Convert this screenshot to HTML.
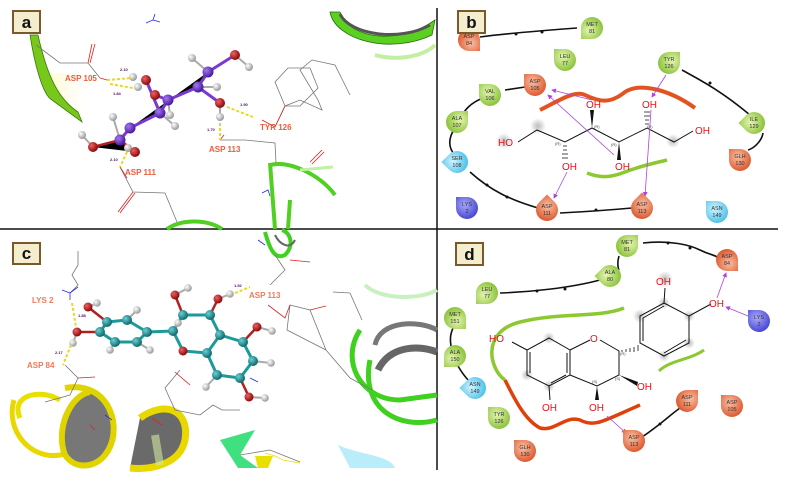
<!DOCTYPE html>
<html><head><meta charset="utf-8"><style>
html,body{margin:0;padding:0;background:#fff;}
svg{display:block;font-family:"Liberation Sans",sans-serif;}
.lab{font-size:8px;font-weight:bold;fill:#ef5a3a;}
.num{font-size:4px;font-weight:bold;fill:#4a1060;}
.nt{font-size:5.5px;fill:#333;text-anchor:middle;}
.oh{font-size:10px;fill:#e8101a;}
.st{font-size:4px;fill:#444;}
</style></head><body>
<svg width="786" height="481" viewBox="0 0 786 481" xmlns="http://www.w3.org/2000/svg">
<defs>
<radialGradient id="gO" cx="40%" cy="35%" r="70%"><stop offset="0" stop-color="#f8c0a4"/><stop offset="1" stop-color="#dc5328"/></radialGradient>
<radialGradient id="gG" cx="40%" cy="35%" r="70%"><stop offset="0" stop-color="#e4f4b0"/><stop offset="1" stop-color="#86c034"/></radialGradient>
<radialGradient id="gB" cx="40%" cy="35%" r="70%"><stop offset="0" stop-color="#d4f4fd"/><stop offset="1" stop-color="#42bfe9"/></radialGradient>
<radialGradient id="gP" cx="40%" cy="35%" r="70%"><stop offset="0" stop-color="#aaaaf8"/><stop offset="1" stop-color="#4040d4"/></radialGradient>
<radialGradient id="aP" cx="35%" cy="35%" r="65%"><stop offset="0" stop-color="#a478f0"/><stop offset="1" stop-color="#4a1aa0"/></radialGradient>
<radialGradient id="aR" cx="35%" cy="35%" r="65%"><stop offset="0" stop-color="#f06060"/><stop offset="1" stop-color="#8a0a0a"/></radialGradient>
<radialGradient id="aW" cx="35%" cy="35%" r="65%"><stop offset="0" stop-color="#ffffff"/><stop offset="1" stop-color="#9a9a9a"/></radialGradient>
<radialGradient id="aT" cx="35%" cy="35%" r="65%"><stop offset="0" stop-color="#6ad0d0"/><stop offset="1" stop-color="#0e6a6e"/></radialGradient>
<radialGradient id="halo"><stop offset="0" stop-color="#bbb"/><stop offset="1" stop-color="#bbb" stop-opacity="0"/></radialGradient>
<linearGradient id="yl" x1="0" x2="1"><stop offset="0" stop-color="#fff6a8" stop-opacity="0.8"/><stop offset="1" stop-color="#fff" stop-opacity="0"/></linearGradient>
<marker id="ar" markerWidth="6" markerHeight="6" refX="5" refY="3" orient="auto"><path d="M0,0 L6,3 L0,6 Z" fill="#b040e0"/></marker>
</defs>

<!-- dividers -->
<line x1="0" y1="229" x2="778" y2="229" stroke="#111" stroke-width="1.5"/>
<line x1="437" y1="8" x2="437" y2="470" stroke="#111" stroke-width="1.5"/>

<!-- ================= PANEL A ================= -->
<path d="M40,75 L85,120 L95,70 Z" fill="url(#yl)"/>
<path d="M30,35 C34,60 42,95 52,100 L82,122 L78,112 C60,100 48,80 38,35 Z" fill="#78c81c" stroke="#3a7a0a" stroke-width="0.8"/>
<path d="M330,12 C335,40 390,55 432,35 L435,20 C400,45 350,40 340,12 Z" fill="#5ad020" stroke="#2a6a10" stroke-width="0.8"/>
<path d="M340,14 C350,35 400,42 430,25" fill="none" stroke="#555" stroke-width="3"/>
<path d="M375,55 C400,62 425,55 435,45" fill="none" stroke="#c0f0a0" stroke-width="4"/>
<path d="M270,165 C290,160 320,175 335,195 M270,163 L275,229 M290,200 L288,229" fill="none" stroke="#50d020" stroke-width="4"/>
<path d="M167,229 C180,220 205,218 222,229" fill="none" stroke="#50d020" stroke-width="4"/>
<path d="M300,170 L333,167" stroke="#c0f0a0" stroke-width="3"/>
<!-- sidechains a -->
<g fill="none" stroke="#777" stroke-width="0.8">
<path d="M36,45 L60,63 L88,63 L100,78"/>
<path d="M120,167 L133,192 L165,193 L177,222"/>
<path d="M220,140 L245,140 L275,143 L276,163"/>
<path d="M275,127 L285,106 L300,100 L322,110 L318,100 L300,70 L312,60 L335,65 L345,85 L350,95"/>
<path d="M285,106 L275,82 L288,68 L310,68 L318,88 L300,106 Z"/>
</g>
<g fill="none" stroke="#e02020" stroke-width="0.8">
<path d="M88,63 L92,44 M90,63 L95,44"/><path d="M100,78 L107,80"/>
<path d="M133,192 L118,212 M135,193 L120,213"/><path d="M120,167 L127,178"/>
<path d="M310,162 L322,150 M312,164 L324,152"/><path d="M220,140 L224,135"/>
<path d="M262,120 L275,127 L285,106"/>
</g>
<g stroke="#2a2ae0" stroke-width="0.8" fill="none"><path d="M155,14 L153,20 L146,23 M153,20 L160,22"/><path d="M262,193 L268,190 L270,196"/></g>
<!-- molecule a -->
<g stroke="#7a3ad0" stroke-width="3"><path d="M130,128 L160,113 L168,100 L198,87 L208,72 M130,128 L120,140 M208,72 L235,55 M198,87 L220,103 M168,100 L155,95 M160,113 L146,80"/></g>
<g stroke="#b02020" stroke-width="2.5"><path d="M93,147 L120,140 L135,152"/></g>
<g stroke="#aaa" stroke-width="2"><path d="M235,55 L249,67 M208,72 L192,58 M198,87 L217,87 M220,103 L220,117 M120,140 L113,117 M93,147 L82,135 M160,113 L175,126 M168,100 L170,115"/></g>
<g fill="url(#aW)"><circle cx="192" cy="58" r="4"/><circle cx="249" cy="67" r="4"/><circle cx="217" cy="87" r="4"/><circle cx="133" cy="77" r="4"/><circle cx="138" cy="87" r="4"/><circle cx="113" cy="117" r="4"/><circle cx="82" cy="135" r="4"/><circle cx="220" cy="117" r="4"/><circle cx="175" cy="126" r="4"/><circle cx="170" cy="115" r="4"/><circle cx="128" cy="148" r="4"/></g>
<g fill="url(#aR)"><circle cx="235" cy="55" r="5"/><circle cx="146" cy="80" r="5"/><circle cx="155" cy="95" r="5"/><circle cx="220" cy="103" r="5"/><circle cx="93" cy="147" r="5"/><circle cx="135" cy="152" r="5"/></g>
<g fill="url(#aP)"><circle cx="168" cy="100" r="5.5"/><circle cx="160" cy="113" r="5.5"/><circle cx="130" cy="128" r="5.5"/><circle cx="120" cy="140" r="5.5"/><circle cx="198" cy="87" r="5.5"/><circle cx="208" cy="72" r="5.5"/></g>
<g stroke="#e8d820" stroke-width="2" stroke-dasharray="3,2" fill="none"><path d="M107,80 L132,78"/><path d="M110,84 L133,88"/><path d="M220,123 L220,140"/><path d="M227,107 L253,117"/><path d="M127,152 L120,167"/></g>
<text class="lab" x="65" y="81">ASP 105</text>
<text class="lab" x="260" y="130">TYR 126</text>
<text class="lab" x="209" y="152">ASP 113</text>
<text class="lab" x="125" y="175">ASP 111</text>
<text class="num" x="120" y="71">2.10</text><text class="num" x="113" y="95">1.84</text><text class="num" x="240" y="106">1.90</text><text class="num" x="207" y="131">1.70</text><text class="num" x="110" y="161">2.10</text>
<rect x="13" y="11" width="27" height="22" fill="#f4eecf" stroke="#7a5a2a" stroke-width="2"/>
<text x="26.5" y="28" text-anchor="middle" font-size="17" font-weight="bold" fill="#111">a</text>

<!-- ================= PANEL C ================= -->
<path d="M20,418 C10,395 40,388 60,400" fill="none" stroke="#e8e000" stroke-width="5"/>
<path d="M14,400 C5,430 30,460 60,455 C75,452 78,435 70,420" fill="none" stroke="#e8d800" stroke-width="5"/>
<path d="M65,388 C110,380 125,430 105,455 C95,468 75,470 65,455 C55,430 70,395 90,392" fill="#777" stroke="#e0d400" stroke-width="6"/>
<path d="M140,418 C165,400 190,410 185,440 C180,465 150,470 130,468" fill="#6a6a6a" stroke="#e8d800" stroke-width="7"/>
<path d="M155,435 L160,465" stroke="#cfe8a0" stroke-width="8" opacity="0.6"/>
<path d="M360,330 C340,360 360,400 400,400 L437,395 M370,360 C360,410 400,430 437,420" fill="none" stroke="#40d020" stroke-width="5"/>
<path d="M375,345 C380,320 420,320 437,330" fill="none" stroke="#777" stroke-width="5"/>
<path d="M378,370 C390,345 420,345 437,352" fill="none" stroke="#666" stroke-width="7"/>
<path d="M365,285 C380,300 420,300 437,290" fill="none" stroke="#c8f0c0" stroke-width="4"/>
<path d="M220,440 L255,430 L240,455 L258,468 L238,468 Z" fill="#40e080"/>
<path d="M338,445 C360,455 390,455 395,468 L350,468 Z" fill="#a8e8f8" opacity="0.8"/>
<path d="M265,232 C270,250 275,260 285,255 C295,245 290,232 282,230" fill="none" stroke="#40d020" stroke-width="4"/>
<path d="M275,235 C280,245 290,250 295,240" fill="none" stroke="#666" stroke-width="2"/>
<g fill="none" stroke="#777" stroke-width="0.8">
<path d="M78,251 L78,265 L72,275 L78,285 L70,293"/>
<path d="M65,365 L78,378 L70,395 L45,402"/>
<path d="M180,370 L165,388 L175,410 L200,415 L213,405 L222,410 L240,410"/>
<path d="M275,255 L285,270 L270,285"/>
<path d="M290,305 L310,310 L326,350 L287,330 Z M326,350 L350,378 L372,390"/>
<path d="M333,292 L350,293 L362,320"/>
<path d="M240,455 L270,450 L300,462"/>
</g>
<g fill="none" stroke="#e02020" stroke-width="0.8"><path d="M268,305 L285,318 L290,305"/><path d="M310,310 L326,306"/><path d="M78,378 L95,377"/><path d="M175,372 L190,385"/><path d="M90,425 L95,430"/><path d="M152,418 L162,425"/><path d="M290,260 L310,262"/></g>
<g stroke="#2a2ae0" stroke-width="0.8" fill="none"><path d="M62,290 L70,293 L78,287 M70,293 L70,300"/><path d="M105,415 L112,420"/><path d="M258,240 L265,245"/><path d="M250,378 L258,382"/></g>
<path d="M255,456 L273,456 L268,468 L258,468 Z" fill="#e8e000"/>
<path d="M265,453 L275,456 L283,460 L300,463" stroke="#e8e000" stroke-width="0.8" fill="none"/>
<!-- molecule c bonds -->
<g stroke="#1a9a9a" stroke-width="3" fill="none"><path d="M107,322 L127,320 L147,332 L137,342 L115,342 L100,332 Z M147,332 L173,331 L183,315 L210,315 L220,335 L207,353 L217,375 L240,378 L253,361 L243,342 L220,335 M173,331 L183,351 L207,353"/></g>
<g stroke="#b02020" stroke-width="2.5"><path d="M107,322 L88,307 M100,332 L77,332 M183,315 L175,295 M210,315 L218,299 M243,342 L257,327 M240,378 L249,397"/></g>
<g stroke="#aaa" stroke-width="2"><path d="M175,295 L188,288 M218,299 L230,294 M88,307 L97,303 M127,320 L137,310 M77,332 L73,343 M115,342 L110,350 M137,342 L150,350 M257,327 L272,331 M253,361 L271,363 M249,397 L265,398 M217,375 L206,387 M173,331 L178,323"/></g>
<g fill="url(#aW)"><circle cx="188" cy="288" r="3.8"/><circle cx="230" cy="294" r="3.8"/><circle cx="97" cy="303" r="3.8"/><circle cx="137" cy="310" r="3.8"/><circle cx="73" cy="343" r="3.8"/><circle cx="110" cy="350" r="3.8"/><circle cx="150" cy="350" r="3.8"/><circle cx="272" cy="331" r="3.8"/><circle cx="271" cy="363" r="3.8"/><circle cx="265" cy="398" r="3.8"/><circle cx="206" cy="387" r="3.8"/><circle cx="178" cy="323" r="3.8"/></g>
<g fill="url(#aR)"><circle cx="183" cy="351" r="4.5"/><circle cx="175" cy="295" r="4.5"/><circle cx="218" cy="299" r="4.5"/><circle cx="88" cy="307" r="4.5"/><circle cx="77" cy="332" r="4.5"/><circle cx="257" cy="327" r="4.5"/><circle cx="249" cy="397" r="4.5"/></g>
<g fill="url(#aT)"><circle cx="107" cy="322" r="5"/><circle cx="127" cy="320" r="5"/><circle cx="147" cy="332" r="5"/><circle cx="137" cy="342" r="5"/><circle cx="115" cy="342" r="5"/><circle cx="100" cy="332" r="5"/><circle cx="173" cy="331" r="5"/><circle cx="183" cy="315" r="5"/><circle cx="210" cy="315" r="5"/><circle cx="220" cy="335" r="5"/><circle cx="207" cy="353" r="5"/><circle cx="243" cy="342" r="5"/><circle cx="253" cy="361" r="5"/><circle cx="240" cy="378" r="5"/><circle cx="217" cy="375" r="5"/></g>
<g stroke="#e8d820" stroke-width="2" stroke-dasharray="3,2" fill="none"><path d="M72,303 L76,327"/><path d="M71,345 L63,365"/><path d="M235,293 L250,287"/></g>
<text class="lab" x="32" y="303" style="fill:#f07a5a">LYS 2</text>
<text class="lab" x="27" y="368" style="fill:#f07a5a">ASP 84</text>
<text class="lab" x="249" y="298" style="fill:#f07a5a">ASP 113</text>
<text class="num" x="78" y="317">1.88</text><text class="num" x="55" y="354">2.17</text><text class="num" x="234" y="287">1.92</text>
<rect x="13" y="243" width="27" height="21" fill="#f4eecf" stroke="#7a5a2a" stroke-width="2"/>
<text x="26.5" y="259" text-anchor="middle" font-size="17" font-weight="bold" fill="#111">c</text>

<!-- ================= PANEL B ================= -->
<g fill="none" stroke="#111" stroke-width="1.6">
<path d="M480,37 C510,33 550,30 577,28"/>
<path d="M505,90 L525,87"/>
<path d="M483,98 C470,103 465,110 460,118"/>
<path d="M455,128 C448,138 448,148 455,155"/>
<path d="M470,172 C490,190 510,200 538,208"/>
<path d="M560,213 C580,212 610,210 632,208"/>
<path d="M682,70 C700,80 720,90 750,115"/>
<path d="M763,133 C762,140 755,148 748,150"/>
</g>
<g fill="#111"><circle cx="516" cy="34" r="1.5"/><circle cx="542" cy="32" r="1.5"/><circle cx="487" cy="185" r="1.5"/><circle cx="507" cy="197" r="1.5"/><circle cx="596" cy="210" r="1.5"/><circle cx="710" cy="83" r="1.5"/></g>
<path d="M540,110 C560,100 575,90 585,95 C600,102 610,104 625,92 C640,82 670,90 695,108" fill="none" stroke="#e0400a" stroke-width="4" opacity="0.9"/>
<path d="M587,173 C600,178 610,178 625,172 C640,166 655,163 667,160" fill="none" stroke="#8cc830" stroke-width="3.5"/>
<circle cx="538" cy="126" r="8" fill="url(#halo)"/><circle cx="673" cy="141" r="7" fill="url(#halo)"/><circle cx="504" cy="141" r="8" fill="url(#halo)"/>
<g stroke="#111" stroke-width="1" fill="none"><path d="M518,142 L537,130 L565,142 L592,128 L619,142 L647,128 L674,142 L693,131"/></g>
<path d="M592,128 L590,110 L594,110 Z" fill="#111"/>
<path d="M619,142 L617,160 L621,160 Z" fill="#111"/>
<g stroke="#111" stroke-width="0.8"><path d="M563,146 h4 M563,150 h4 M562,154 h6 M562,158 h6"/><path d="M645,124 h4 M645,120 h4 M644,116 h6 M644,112 h6"/></g>
<text class="oh" x="498" y="146">HO</text>
<text class="oh" x="586" y="108">OH</text>
<text class="oh" x="642" y="108">OH</text>
<text class="oh" x="695" y="134">OH</text>
<text class="oh" x="562" y="170">OH</text>
<text class="oh" x="615" y="170">OH</text>
<text class="st" x="555" y="145">(R)</text><text class="st" x="594" y="128">(R)</text><text class="st" x="611" y="146">(R)</text><text class="st" x="647" y="128">(R)</text>
<g stroke="#b040e0" stroke-width="0.8" fill="none" marker-end="url(#ar)">
<path d="M592,100 L552,90"/>
<path d="M614,155 L548,95"/>
<path d="M666,75 L652,97"/>
<path d="M651,110 L645,196"/>
<path d="M567,172 L554,198"/>
</g>
<g id="bnodes">
<g transform="translate(469,40) rotate(180)"><path d="M0,-11 A11,11 0 1,1 -11,0 L-11,-11Z" fill="url(#gO)"/></g><text class="nt" x="469" y="38">ASP</text><text class="nt" x="469" y="45">84</text>
<g transform="translate(592,28) rotate(270)"><path d="M0,-11 A11,11 0 1,1 -11,0 L-11,-11Z" fill="url(#gG)"/></g><text class="nt" x="592" y="26">MET</text><text class="nt" x="592" y="33">81</text>
<g transform="translate(565,60) rotate(0)"><path d="M0,-11 A11,11 0 1,1 -11,0 L-11,-11Z" fill="url(#gG)"/></g><text class="nt" x="565" y="58">LEU</text><text class="nt" x="565" y="65">77</text>
<g transform="translate(669,63) rotate(90)"><path d="M0,-11 A11,11 0 1,1 -11,0 L-11,-11Z" fill="url(#gG)"/></g><text class="nt" x="669" y="61">TYR</text><text class="nt" x="669" y="68">126</text>
<g transform="translate(535,85) rotate(0)"><path d="M0,-11 A11,11 0 1,1 -11,0 L-11,-11Z" fill="url(#gO)"/></g><text class="nt" x="535" y="83">ASP</text><text class="nt" x="535" y="90">105</text>
<g transform="translate(490,95) rotate(0)"><path d="M0,-11 A11,11 0 1,1 -11,0 L-11,-11Z" fill="url(#gG)"/></g><text class="nt" x="490" y="93">VAL</text><text class="nt" x="490" y="100">106</text>
<g transform="translate(457,122) rotate(90)"><path d="M0,-11 A11,11 0 1,1 -11,0 L-11,-11Z" fill="url(#gG)"/></g><text class="nt" x="457" y="120">ALA</text><text class="nt" x="457" y="127">107</text>
<g transform="translate(754,123) rotate(-45)"><path d="M0,-11 A11,11 0 1,1 -11,0 L-11,-11Z" fill="url(#gG)"/></g><text class="nt" x="754" y="121">ILE</text><text class="nt" x="754" y="128">129</text>
<g transform="translate(740,160) rotate(0)"><path d="M0,-11 A11,11 0 1,1 -11,0 L-11,-11Z" fill="url(#gO)"/></g><text class="nt" x="740" y="158">GLH</text><text class="nt" x="740" y="165">130</text>
<g transform="translate(457,162) rotate(-45)"><path d="M0,-11 A11,11 0 1,1 -11,0 L-11,-11Z" fill="url(#gB)"/></g><text class="nt" x="457" y="160">SER</text><text class="nt" x="457" y="167">108</text>
<g transform="translate(467,208) rotate(0)"><path d="M0,-11 A11,11 0 1,1 -11,0 L-11,-11Z" fill="url(#gP)"/></g><text class="nt" x="467" y="206">LYS</text><text class="nt" x="467" y="213">2</text>
<g transform="translate(547,210) rotate(45)"><path d="M0,-11 A11,11 0 1,1 -11,0 L-11,-11Z" fill="url(#gO)"/></g><text class="nt" x="547" y="208">ASP</text><text class="nt" x="547" y="215">111</text>
<g transform="translate(642,208) rotate(45)"><path d="M0,-11 A11,11 0 1,1 -11,0 L-11,-11Z" fill="url(#gO)"/></g><text class="nt" x="642" y="206">ASP</text><text class="nt" x="642" y="213">113</text>
<g transform="translate(717,212) rotate(0)"><path d="M0,-11 A11,11 0 1,1 -11,0 L-11,-11Z" fill="url(#gB)"/></g><text class="nt" x="717" y="210">ASN</text><text class="nt" x="717" y="217">149</text>
</g>
<rect x="458" y="11" width="27" height="22" fill="#f4eecf" stroke="#7a5a2a" stroke-width="2"/>
<text x="471.5" y="28" text-anchor="middle" font-size="17" font-weight="bold" fill="#111">b</text>

<!-- ================= PANEL D ================= -->
<g fill="none" stroke="#111" stroke-width="1.6">
<path d="M643,243 C670,240 690,245 700,250 C710,255 715,255 717,257"/>
<path d="M619,256 C617,262 618,268 619,270"/>
<path d="M600,280 C570,288 530,292 500,293"/>
<path d="M453,328 C450,335 450,340 451,346"/>
<path d="M458,366 C462,373 466,378 470,382"/>
<path d="M642,437 C660,425 670,415 680,408"/>
</g>
<g fill="#111"><circle cx="668" cy="243" r="1.5"/><circle cx="690" cy="248" r="1.5"/><circle cx="537" cy="291" r="1.5"/><circle cx="565" cy="289" r="1.5"/><circle cx="660" cy="424" r="1.5"/></g>
<path d="M624,308 C600,318 560,312 520,322 C480,332 490,370 505,380" fill="none" stroke="#8cc830" stroke-width="3.5"/>
<path d="M505,380 C515,400 525,420 540,428 C555,432 565,415 580,420 C595,428 605,420 640,405" fill="none" stroke="#e0400a" stroke-width="3.5"/>
<path d="M659,371 C670,360 690,360 704,350" fill="none" stroke="#8cc830" stroke-width="3"/>
<circle cx="665" cy="279" r="8" fill="url(#halo)"/><circle cx="640" cy="316" r="7" fill="url(#halo)"/><circle cx="664" cy="303" r="6" fill="url(#halo)"/><circle cx="689" cy="316" r="6" fill="url(#halo)"/><circle cx="689" cy="343" r="6" fill="url(#halo)"/><circle cx="664" cy="356" r="6" fill="url(#halo)"/><circle cx="527" cy="375" r="6" fill="url(#halo)"/><circle cx="549" cy="386" r="6" fill="url(#halo)"/><circle cx="549" cy="338" r="6" fill="url(#halo)"/>
<g stroke="#111" stroke-width="1" fill="none">
<path d="M527,350 L527,375 L549,386 L570,375 L570,350 L549,338 Z"/>
<path d="M530,352 L530,373 M567,353 L567,373 M551,383 L566,375"/>
<path d="M570,350 L590,340 M600,340 L619,351 L619,375 L597,386 L570,375"/>
<path d="M640,343 L640,316 L664,303 L689,316 L689,343 L664,356 Z"/>
<path d="M643,318 L664,306 M686,340 L664,353 M643,341 L643,318"/>
<path d="M664,303 L665,288 M689,316 L711,304 M527,350 L512,342 M549,386 L550,400"/>
</g>
<g stroke="#111" stroke-width="0.8"><path d="M622,350 v2 M626,349 v3 M630,348 v4 M634,347 v5 M638,345 v6"/></g>
<path d="M619,375 L638,382 L637,386 Z" fill="#111"/>
<path d="M597,386 L595,400 L599,400 Z" fill="#111"/>
<text class="oh" x="590" y="342">O</text>
<text class="oh" x="489" y="342">HO</text>
<text class="oh" x="542" y="411">OH</text>
<text class="oh" x="589" y="411">OH</text>
<text class="oh" x="637" y="390">OH</text>
<text class="oh" x="656" y="285">OH</text>
<text class="oh" x="709" y="307">OH</text>
<text class="st" x="620" y="355">(R)</text><text class="st" x="615" y="380">(S)</text><text class="st" x="592" y="383">(S)</text>
<g stroke="#b040e0" stroke-width="0.8" fill="none" marker-end="url(#ar)">
<path d="M717,298 L726,273"/>
<path d="M748,316 L726,307"/>
<path d="M607,416 L626,433"/>
</g>
<g id="dnodes">
<g transform="translate(627,246) rotate(90)"><path d="M0,-11 A11,11 0 1,1 -11,0 L-11,-11Z" fill="url(#gG)"/></g><text class="nt" x="627" y="244">MET</text><text class="nt" x="627" y="251">81</text>
<g transform="translate(727,260) rotate(180)"><path d="M0,-11 A11,11 0 1,1 -11,0 L-11,-11Z" fill="url(#gO)"/></g><text class="nt" x="727" y="258">ASP</text><text class="nt" x="727" y="265">84</text>
<g transform="translate(610,276) rotate(-45)"><path d="M0,-11 A11,11 0 1,1 -11,0 L-11,-11Z" fill="url(#gG)"/></g><text class="nt" x="610" y="274">ALA</text><text class="nt" x="610" y="281">80</text>
<g transform="translate(487,293) rotate(-90)"><path d="M0,-11 A11,11 0 1,1 -11,0 L-11,-11Z" fill="url(#gG)"/></g><text class="nt" x="487" y="291">LEU</text><text class="nt" x="487" y="298">77</text>
<g transform="translate(455,318) rotate(180)"><path d="M0,-11 A11,11 0 1,1 -11,0 L-11,-11Z" fill="url(#gG)"/></g><text class="nt" x="455" y="316">MET</text><text class="nt" x="455" y="323">151</text>
<g transform="translate(455,356) rotate(-90)"><path d="M0,-11 A11,11 0 1,1 -11,0 L-11,-11Z" fill="url(#gG)"/></g><text class="nt" x="455" y="354">ALA</text><text class="nt" x="455" y="361">150</text>
<g transform="translate(475,388) rotate(-45)"><path d="M0,-11 A11,11 0 1,1 -11,0 L-11,-11Z" fill="url(#gB)"/></g><text class="nt" x="475" y="386">ASN</text><text class="nt" x="475" y="393">149</text>
<g transform="translate(759,321) rotate(0)"><path d="M0,-11 A11,11 0 1,1 -11,0 L-11,-11Z" fill="url(#gP)"/></g><text class="nt" x="759" y="319">LYS</text><text class="nt" x="759" y="326">2</text>
<g transform="translate(499,418) rotate(0)"><path d="M0,-11 A11,11 0 1,1 -11,0 L-11,-11Z" fill="url(#gG)"/></g><text class="nt" x="499" y="416">TYR</text><text class="nt" x="499" y="423">126</text>
<g transform="translate(525,451) rotate(0)"><path d="M0,-11 A11,11 0 1,1 -11,0 L-11,-11Z" fill="url(#gO)"/></g><text class="nt" x="525" y="449">GLH</text><text class="nt" x="525" y="456">130</text>
<g transform="translate(634,441) rotate(0)"><path d="M0,-11 A11,11 0 1,1 -11,0 L-11,-11Z" fill="url(#gO)"/></g><text class="nt" x="634" y="439">ASP</text><text class="nt" x="634" y="446">113</text>
<g transform="translate(687,401) rotate(90)"><path d="M0,-11 A11,11 0 1,1 -11,0 L-11,-11Z" fill="url(#gO)"/></g><text class="nt" x="687" y="399">ASP</text><text class="nt" x="687" y="406">111</text>
<g transform="translate(732,406) rotate(0)"><path d="M0,-11 A11,11 0 1,1 -11,0 L-11,-11Z" fill="url(#gO)"/></g><text class="nt" x="732" y="404">ASP</text><text class="nt" x="732" y="411">105</text>
</g>
<rect x="456" y="243" width="27" height="22" fill="#f4eecf" stroke="#7a5a2a" stroke-width="2"/>
<text x="469.5" y="260" text-anchor="middle" font-size="17" font-weight="bold" fill="#111">d</text>
</svg>
</body></html>
